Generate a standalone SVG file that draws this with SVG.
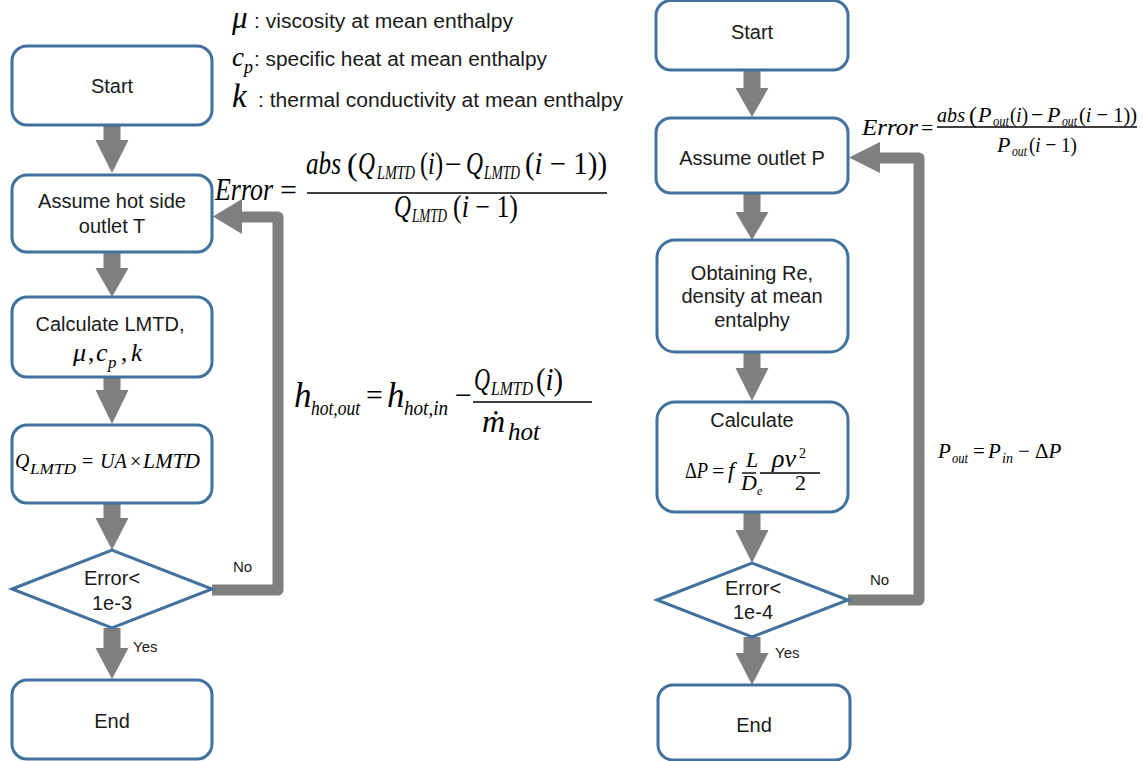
<svg xmlns="http://www.w3.org/2000/svg" width="1143" height="761" viewBox="0 0 1143 761">
<defs>
<style>
.box{fill:#fff;stroke:#41719C;stroke-width:3}
.t{font-family:"Liberation Sans",Arial,sans-serif;font-size:20px;fill:#1a1a1a;text-anchor:middle}
.lbl{font-family:"Liberation Sans",Arial,sans-serif;font-size:15px;fill:#1a1a1a}
.lg{font-family:"Liberation Sans",Arial,sans-serif;font-size:20px;fill:#1a1a1a}
.m{font-family:"Liberation Serif","Times New Roman",serif;font-style:italic;fill:#000}
.u{font-family:"Liberation Serif","Times New Roman",serif;font-style:normal;fill:#000}
.ar{fill:#7f7f7f}
.fb{fill:none;stroke:#7f7f7f;stroke-width:11;stroke-linejoin:round}
.fl{stroke:#000;stroke-width:1.4}
</style>
</defs>
<rect width="1143" height="761" fill="#fff"/>

<!-- legend -->
<g id="legend">
<text class="m" x="232" y="28" font-size="31">μ</text>
<text class="lg" x="254" y="28" textLength="259" lengthAdjust="spacingAndGlyphs">: viscosity at mean enthalpy</text>
<text class="m" x="232" y="66" font-size="27">c</text>
<text class="m" x="244" y="73" font-size="18">p</text>
<text class="lg" x="254" y="66" textLength="293" lengthAdjust="spacingAndGlyphs">: specific heat at mean enthalpy</text>
<text class="m" x="232" y="107" font-size="33">k</text>
<text class="lg" x="258" y="107" textLength="365" lengthAdjust="spacingAndGlyphs">: thermal conductivity at mean enthalpy</text>
</g>

<!-- connectors -->
<g id="connectors">
<polygon class="ar" points="103.5,125 120.5,125 120.5,140 128.5,140 112,173 95.5,140 103.5,140"/>
<polygon class="ar" points="103.5,252 120.5,252 120.5,268 128.5,268 112,297 95.5,268 103.5,268"/>
<polygon class="ar" points="103.5,377 120.5,377 120.5,390 128.5,390 112,424 95.5,390 103.5,390"/>
<polygon class="ar" points="103.5,503 120.5,503 120.5,518 128.5,518 112,550 95.5,518 103.5,518"/>
<polygon class="ar" points="103.5,628 120.5,628 120.5,648 128.5,648 112,679 95.5,648 103.5,648"/>
<path class="fb" d="M212,590 H278 V217 H240"/>
<polygon class="ar" points="242,199 242,234 213,216.5"/>

<polygon class="ar" points="743.5,70 760.5,70 760.5,88 768.5,88 752,117 735.5,88 743.5,88"/>
<polygon class="ar" points="743.5,193 760.5,193 760.5,212 768.5,212 752,240 735.5,212 743.5,212"/>
<polygon class="ar" points="743.5,352 760.5,352 760.5,368 768.5,368 752,401 735.5,368 743.5,368"/>
<polygon class="ar" points="743.5,512 760.5,512 760.5,530 768.5,530 752,563 735.5,530 743.5,530"/>
<polygon class="ar" points="743.5,637 760.5,637 760.5,653 768.5,653 752,685 735.5,653 743.5,653"/>
<path class="fb" d="M848,600 H919 V158 H878"/>
<polygon class="ar" points="880,142 880,173 849,157.5"/>

<text class="lbl" x="233" y="572">No</text>
<text class="lbl" x="133" y="652">Yes</text>
<text class="lbl" x="870" y="585">No</text>
<text class="lbl" x="775" y="658">Yes</text>
</g>

<!-- left flow -->
<g id="l-start"><rect class="box" x="12" y="46" width="200" height="79" rx="15"/><text class="t" x="112" y="93">Start</text></g>
<g id="l-assume"><rect class="box" x="12" y="175" width="200" height="77" rx="15"/><text class="t" x="112" y="208" font-size="21">Assume hot side</text><text class="t" x="112" y="233" font-size="21">outlet T</text></g>
<g id="l-calc"><rect class="box" x="12" y="297" width="200" height="80" rx="15"/><text class="t" x="110" y="331">Calculate LMTD,</text>
<text class="m" x="73" y="361" font-size="26">μ</text>
<text class="u" x="88" y="361" font-size="25">,</text>
<text class="m" x="96" y="361" font-size="26">c</text>
<text class="m" x="108" y="368" font-size="17">p</text>
<text class="u" x="121" y="361" font-size="25">,</text>
<text class="m" x="131" y="361" font-size="25">k</text>
</g>
<g id="l-q"><rect class="box" x="12" y="425" width="200" height="78" rx="15"/>
<text class="m" x="15" y="468" font-size="20">Q</text>
<text class="m" x="30" y="474" font-size="15" textLength="46" lengthAdjust="spacingAndGlyphs">LMTD</text>
<text class="u" x="82" y="468" font-size="20">=</text>
<text class="m" x="100" y="468" font-size="20" textLength="27" lengthAdjust="spacingAndGlyphs">UA</text>
<text class="u" x="130" y="468" font-size="20">×</text>
<text class="m" x="143" y="468" font-size="20" textLength="57" lengthAdjust="spacingAndGlyphs">LMTD</text>
</g>
<g id="l-dec"><polygon class="box" points="12,589 112,550 212,589 112,628"/><text class="t" x="112" y="585">Error&lt;</text><text class="t" x="112" y="610">1e-3</text></g>
<g id="l-end"><rect class="box" x="12" y="680" width="200" height="79" rx="15"/><text class="t" x="112" y="728">End</text></g>

<!-- left formulas -->
<g id="f-err1">
<text class="m" x="215" y="200" font-size="31" textLength="58" lengthAdjust="spacingAndGlyphs">Error</text>
<text class="u" x="280" y="200" font-size="30">=</text>
<line class="fl" x1="307" y1="193" x2="607" y2="193"/>
<text class="m" x="306" y="174" font-size="31" textLength="35" lengthAdjust="spacingAndGlyphs">abs</text>
<text class="u" x="347" y="175" font-size="32">(</text>
<text class="m" x="358" y="174" font-size="31" textLength="17" lengthAdjust="spacingAndGlyphs">Q</text>
<text class="m" x="377" y="179" font-size="18" textLength="38" lengthAdjust="spacingAndGlyphs">LMTD</text>
<text class="u" x="420" y="174" font-size="31" textLength="23" lengthAdjust="spacingAndGlyphs">(<tspan font-style="italic">i</tspan>)</text>
<text class="u" x="445" y="174" font-size="30">−</text>
<text class="m" x="466" y="174" font-size="31" textLength="17" lengthAdjust="spacingAndGlyphs">Q</text>
<text class="m" x="484" y="179" font-size="18" textLength="36" lengthAdjust="spacingAndGlyphs">LMTD</text>
<text class="u" x="525" y="174" font-size="31" textLength="82" lengthAdjust="spacingAndGlyphs">(<tspan font-style="italic">i</tspan> − 1))</text>
<text class="m" x="394" y="217" font-size="31" textLength="17" lengthAdjust="spacingAndGlyphs">Q</text>
<text class="m" x="412" y="222" font-size="18" textLength="35" lengthAdjust="spacingAndGlyphs">LMTD</text>
<text class="u" x="453" y="217" font-size="31" textLength="65" lengthAdjust="spacingAndGlyphs">(<tspan font-style="italic">i</tspan> − 1)</text>
</g>
<g id="f-h">
<text class="m" x="294" y="407" font-size="35">h</text>
<text class="m" x="311" y="415" font-size="22" textLength="49" lengthAdjust="spacingAndGlyphs">hot,out</text>
<text class="u" x="366" y="405" font-size="30">=</text>
<text class="m" x="387" y="407" font-size="35">h</text>
<text class="m" x="404" y="415" font-size="22" textLength="44" lengthAdjust="spacingAndGlyphs">hot,in</text>
<text class="u" x="455" y="405" font-size="30">−</text>
<line class="fl" x1="473" y1="402" x2="592" y2="402"/>
<text class="m" x="474" y="390" font-size="32" textLength="16" lengthAdjust="spacingAndGlyphs">Q</text>
<text class="m" x="491" y="395" font-size="19" textLength="42" lengthAdjust="spacingAndGlyphs">LMTD</text>
<text class="u" x="536" y="390" font-size="32" textLength="27" lengthAdjust="spacingAndGlyphs">(<tspan font-style="italic">i</tspan>)</text>
<text class="m" x="482" y="432" font-size="32">ṁ</text>
<text class="m" x="508" y="440" font-size="25">hot</text>
</g>

<!-- right flow -->
<g id="r-start"><rect class="box" x="656" y="0.5" width="192" height="69.5" rx="15"/><text class="t" x="752" y="39">Start</text></g>
<g id="r-assume"><rect class="box" x="656" y="118" width="192" height="75" rx="15"/><text class="t" x="752" y="165">Assume outlet P</text></g>
<g id="r-obtain"><rect class="box" x="657" y="240" width="191" height="112" rx="18"/><text class="t" x="752" y="280">Obtaining Re,</text><text class="t" x="752" y="303">density at mean</text><text class="t" x="752" y="327">entalphy</text></g>
<g id="r-calc"><rect class="box" x="657" y="402" width="191" height="110" rx="18"/><text class="t" x="752" y="427">Calculate</text>
<text class="u" x="685" y="478" font-size="23" textLength="23" lengthAdjust="spacingAndGlyphs">Δ<tspan font-style="italic">P</tspan></text>
<text class="u" x="712" y="478" font-size="22">=</text>
<text class="m" x="728" y="478" font-size="23">f</text>
<line class="fl" x1="742" y1="473" x2="756" y2="473"/>
<text class="m" x="746" y="467" font-size="22">L</text>
<text class="m" x="741" y="490" font-size="22">D</text>
<text class="m" x="757" y="495" font-size="12">e</text>
<line class="fl" x1="760" y1="473" x2="820" y2="473"/>
<text class="m" x="772" y="467" font-size="26">ρv</text>
<text class="u" x="799" y="458" font-size="14">2</text>
<text class="u" x="795" y="490" font-size="22">2</text>
</g>
<g id="r-dec"><polygon class="box" points="657,600 752,563 848,600 752,637"/><text class="t" x="753" y="595">Error&lt;</text><text class="t" x="753" y="619">1e-4</text></g>
<g id="r-end"><rect class="box" x="658" y="685" width="192" height="75" rx="15"/><text class="t" x="754" y="732">End</text></g>

<!-- right formulas -->
<g id="f-err2">
<text class="m" x="862" y="135" font-size="24" textLength="56" lengthAdjust="spacingAndGlyphs">Error</text>
<text class="u" x="921" y="135" font-size="22">=</text>
<line class="fl" x1="937" y1="127" x2="1137" y2="127"/>
<text class="m" x="937" y="122" font-size="22" textLength="28" lengthAdjust="spacingAndGlyphs">abs</text>
<text class="u" x="969" y="123" font-size="24">(</text>
<text class="m" x="978" y="122" font-size="22">P</text>
<text class="m" x="993" y="126" font-size="14" textLength="16" lengthAdjust="spacingAndGlyphs">out</text>
<text class="u" x="1010" y="122" font-size="22" textLength="18" lengthAdjust="spacingAndGlyphs">(<tspan font-style="italic">i</tspan>)</text>
<text class="u" x="1031" y="122" font-size="22">−</text>
<text class="m" x="1047" y="122" font-size="22">P</text>
<text class="m" x="1062" y="126" font-size="14" textLength="15" lengthAdjust="spacingAndGlyphs">out</text>
<text class="u" x="1079" y="122" font-size="22" textLength="58" lengthAdjust="spacingAndGlyphs">(<tspan font-style="italic">i</tspan> − 1))</text>
<text class="m" x="997" y="152" font-size="22">P</text>
<text class="m" x="1012" y="156" font-size="14" textLength="15" lengthAdjust="spacingAndGlyphs">out</text>
<text class="u" x="1029" y="152" font-size="22" textLength="48" lengthAdjust="spacingAndGlyphs">(<tspan font-style="italic">i</tspan> − 1)</text>
</g>
<g id="f-pout">
<text class="m" x="938" y="458" font-size="21">P</text>
<text class="m" x="952" y="463" font-size="14" textLength="16" lengthAdjust="spacingAndGlyphs">out</text>
<text class="u" x="973" y="458" font-size="21">=</text>
<text class="m" x="988" y="458" font-size="21">P</text>
<text class="m" x="1002" y="463" font-size="14">in</text>
<text class="u" x="1018" y="458" font-size="21">−</text>
<text class="u" x="1035" y="458" font-size="21">Δ<tspan font-style="italic">P</tspan></text>
</g>
</svg>
